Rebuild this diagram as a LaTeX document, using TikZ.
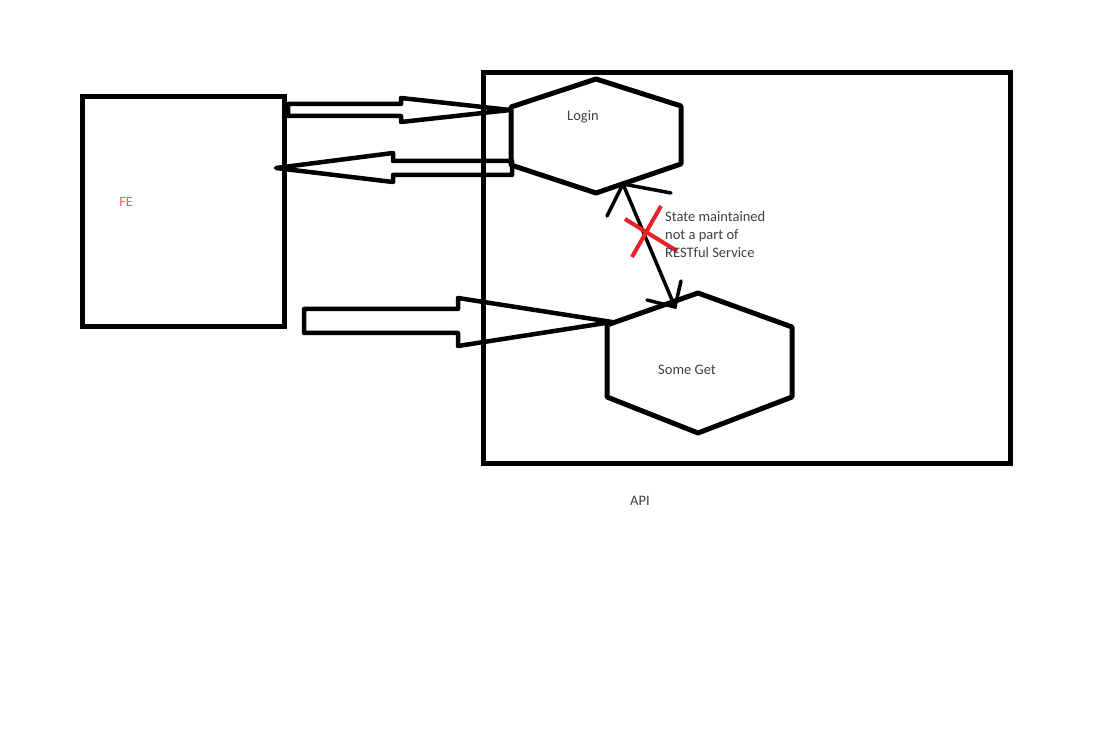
\documentclass[tikz,border=0pt]{standalone}
\usepackage{fontspec}
\setmainfont{Carlito}
\definecolor{txt}{HTML}{404040}
\definecolor{fered}{HTML}{FF5A5F}
\definecolor{xred}{HTML}{E8202A}
\begin{document}
\begin{tikzpicture}[x=1pt,y=-1pt,
  heavy/.style={draw=black,line width=5pt,line join=miter},
  boxnode/.style={heavy,anchor=north west,inner sep=0pt,outer sep=0pt},
  blockarrow/.style={draw=black,line width=4.5pt,line join=round},
  label/.style={text=txt,font=\fontsize{14.5}{18}\selectfont,inner sep=0pt},
  conn/.style={draw=black,line width=3.5pt,line cap=round}]
\useasboundingbox[fill=white] (0,0) rectangle (1098,735);
% boxes
\node[boxnode,minimum width=202.5pt,minimum height=230.5pt] (fe) at (82,96.5) {};
\node[text=fered,font=\fontsize{14}{16}\selectfont,inner sep=0pt] (felabel) at (126,202) {FE};
\node[boxnode,minimum width=527pt,minimum height=390.5pt] (api) at (483.5,72.5) {};
\node[label] (apilabel) at (640,501) {API};
% hexagons
\coordinate (l1) at (596,79);
\coordinate (l2) at (681,106);
\coordinate (l3) at (681,164);
\coordinate (l4) at (596,193);
\coordinate (l5) at (511,165);
\coordinate (l6) at (511,107);
\draw[heavy,line join=round] (l1) -- (l2) -- (l3) -- (l4) -- (l5) -- (l6) -- cycle;
\node[label] (login) at (583,117) {Login};
\coordinate (s1) at (698,293);
\coordinate (s2) at (792,327);
\coordinate (s3) at (792,397);
\coordinate (s4) at (698,433);
\coordinate (s5) at (607,397);
\coordinate (s6) at (607,325);
\draw[heavy,line join=round] (s1) -- (s2) -- (s3) -- (s4) -- (s5) -- (s6) -- cycle;
\node[label] (someget) at (687,370) {Some Get};
% block arrows
\draw[blockarrow] (288,104) -- (401,104) -- (401,98) -- (510,110) -- (401,122) -- (401,116) -- (288,116) -- cycle;
\draw[blockarrow] (512,161) -- (393,161) -- (393,153) -- (276,168) -- (393,182) -- (393,175) -- (512,175) -- cycle;
\draw[blockarrow] (304,309) -- (458,309) -- (458,298) -- (612,322) -- (458,346) -- (458,333) -- (304,333) -- cycle;
% double arrow
\coordinate (ta) at (623,184);
\coordinate (tb) at (675,307);
\draw[conn] (ta) -- (tb);
\draw[conn] (607,216) -- (ta) -- (671,193);
\draw[conn] (681,281) -- (tb) -- (647,300);
% red cross
\draw[draw=xred,line width=4pt] (661,206) -- (632,257);
\draw[draw=xred,line width=4pt] (625,219) -- (677,251);
\node[label,anchor=west,align=left] (state) at (665,235) {State maintained\\not a part of\\RESTful Service};
\end{tikzpicture}
\end{document}
